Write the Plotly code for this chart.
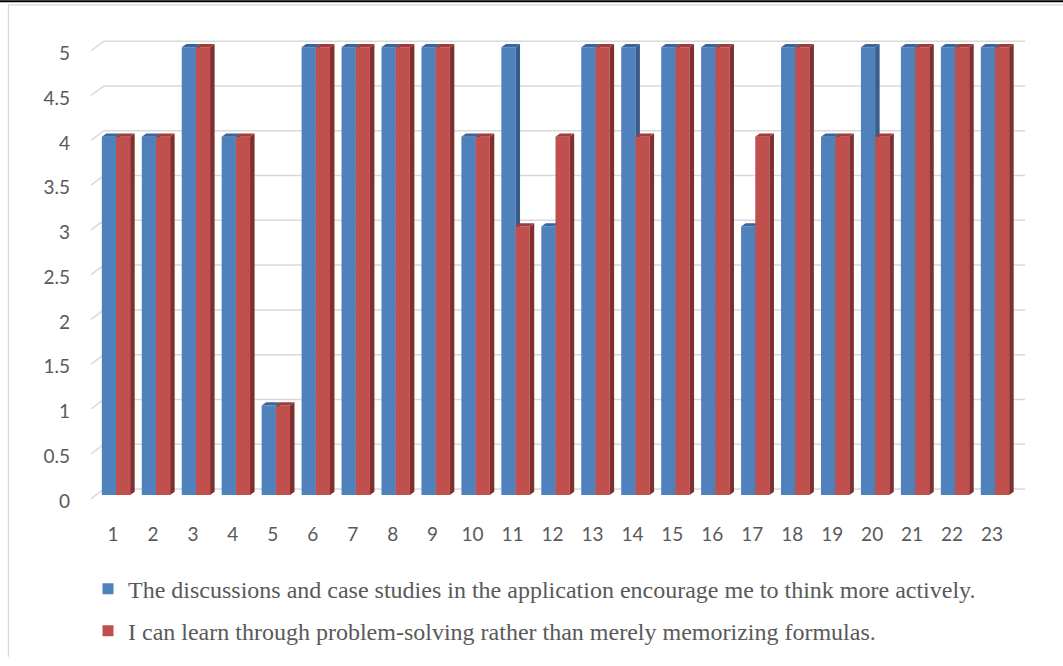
import plotly.graph_objects as go

# ---------------- data ----------------
categories = list(range(1, 24))
category_labels = [str(c) for c in categories]
series1_name = "The discussions and case studies in the application encourage me to think more actively."
series2_name = "I can learn through problem-solving rather than merely memorizing formulas."
series1 = [4, 4, 5, 4, 1, 5, 5, 5, 5, 4, 5, 3, 5, 5, 5, 5, 3, 5, 4, 5, 5, 5, 5]
series2 = [4, 4, 5, 4, 1, 5, 5, 5, 5, 4, 3, 4, 5, 4, 5, 5, 4, 5, 4, 4, 5, 5, 5]
y_ticks = [0, 0.5, 1, 1.5, 2, 2.5, 3, 3.5, 4, 4.5, 5]
y_tick_labels = ["0", "0.5", "1", "1.5", "2", "2.5", "3", "3.5", "4", "4.5", "5"]

# ---------------- geometry / style ----------------
W, H = 1063, 666
PL, PR, PT, PB = 91, 1025, 30, 510          # plot area in px
XR = [0.374, 23.751]
YR = [-0.088, 5.193]
px_per_x = (PR - PL) / (XR[1] - XR[0])
px_per_y = (PB - PT) / (YR[1] - YR[0])
BW = 0.355                                   # bar width (category units)
DX = 4.5 / px_per_x                          # 3D depth offset
DY = 3.3 / px_per_y
GRID_UP = 6.2 / px_per_y                     # back wall offset of gridlines
STUB_DOWN = 3.5 / px_per_y

def paper_x(px):
    return (px - PL) / (PR - PL)

def paper_y(py):
    return (PB - py) / (PB - PT)

colors = {
    "s1": dict(front="#4F81BD", side="#385D8A", top="#3A66A0"),
    "s2": dict(front="#C0504D", side="#7F2F2D", top="#A03D3A"),
}

def faces(xs, vals, offset):
    fx, fy, sx, sy, tx, ty = [], [], [], [], [], []
    for c, v in zip(xs, vals):
        l = c + offset
        r = l + BW
        fx += [l, r, r, l, l, None]; fy += [0, 0, v, v, 0, None]
        sx += [r, r + DX, r + DX, r, r, None]; sy += [0, DY, v + DY, v, 0, None]
        tx += [l, l + DX, r + DX, r, l, None]; ty += [v, v + DY, v + DY, v, v, None]
    return (fx, fy), (sx, sy), (tx, ty)

fig = go.Figure()

for key, vals, offset in (("s1", series1, -BW), ("s2", series2, 0.0)):
    front, side, top = faces(categories, vals, offset)
    for (xx, yy), face in ((front, "front"), (side, "side"), (top, "top")):
        fig.add_trace(go.Scatter(
            x=xx, y=yy, mode="none", fill="toself",
            fillcolor=colors[key][face], showlegend=False, hoverinfo="skip"))

# legend entries
for i, (key, name) in enumerate((("s1", series1_name), ("s2", series2_name))):
    fig.add_trace(go.Scatter(
        x=[None], y=[None], mode="markers", name=name, legendgroup=f"g{i}",
        marker=dict(symbol="square", size=11, color=colors[key]["front"])))

# back-wall gridlines with slanted floor stubs
shapes = []
for v in y_ticks:
    shapes.append(dict(type="line", xref="paper", yref="y", layer="below",
                       x0=0, y0=v - STUB_DOWN, x1=paper_x(104), y1=v + GRID_UP,
                       line=dict(color="#D9D9D9", width=1.5)))
    shapes.append(dict(type="line", xref="paper", yref="y", layer="below",
                       x0=paper_x(104), y0=v + GRID_UP, x1=1, y1=v + GRID_UP,
                       line=dict(color="#D9D9D9", width=1.5)))
# chart frame
shapes.append(dict(type="line", xref="paper", yref="paper",
                   x0=paper_x(0), x1=paper_x(W), y0=paper_y(0.8), y1=paper_y(0.8),
                   line=dict(color="#000000", width=2)))
shapes.append(dict(type="line", xref="paper", yref="paper",
                   x0=paper_x(8), x1=paper_x(W), y0=paper_y(4.5), y1=paper_y(4.5),
                   line=dict(color="#D9D9D9", width=1.3)))
shapes.append(dict(type="line", xref="paper", yref="paper",
                   x0=paper_x(8.5), x1=paper_x(8.5), y0=paper_y(4.5), y1=paper_y(H),
                   line=dict(color="#D9D9D9", width=1.3)))

tick_font = dict(family="Lato", size=19, color="#595959")

fig.update_layout(
    width=W, height=H,
    margin=dict(l=PL, r=W - PR, t=PT, b=H - PB, pad=0),
    paper_bgcolor="white", plot_bgcolor="rgba(0,0,0,0)",
    shapes=shapes,
    xaxis=dict(range=XR, tickmode="array", tickvals=categories, ticktext=category_labels,
               showgrid=False, zeroline=False, showline=False, ticks="",
               tickfont=tick_font, ticklabelshift=-3, ticklabelstandoff=18,
               fixedrange=True, automargin=False),
    yaxis=dict(range=YR, tickmode="array", tickvals=y_ticks, ticktext=y_tick_labels,
               showgrid=False, zeroline=False, showline=False, ticks="",
               tickfont=tick_font, ticklabelshift=6, ticklabelstandoff=20,
               fixedrange=True, automargin=False),
    legend=dict(x=paper_x(88), y=paper_y(574.5), xanchor="left", yanchor="top",
                font=dict(family="Liberation Serif, Times New Roman, serif", size=24,
                          color="#595959"),
                traceorder="grouped", tracegroupgap=8, bgcolor="rgba(0,0,0,0)"),
    showlegend=True,
)

fig.write_html(
    "out.html",
    config={"displayModeBar": False},
    post_script="document.body.style.margin='0';document.body.style.padding='0';",
)
